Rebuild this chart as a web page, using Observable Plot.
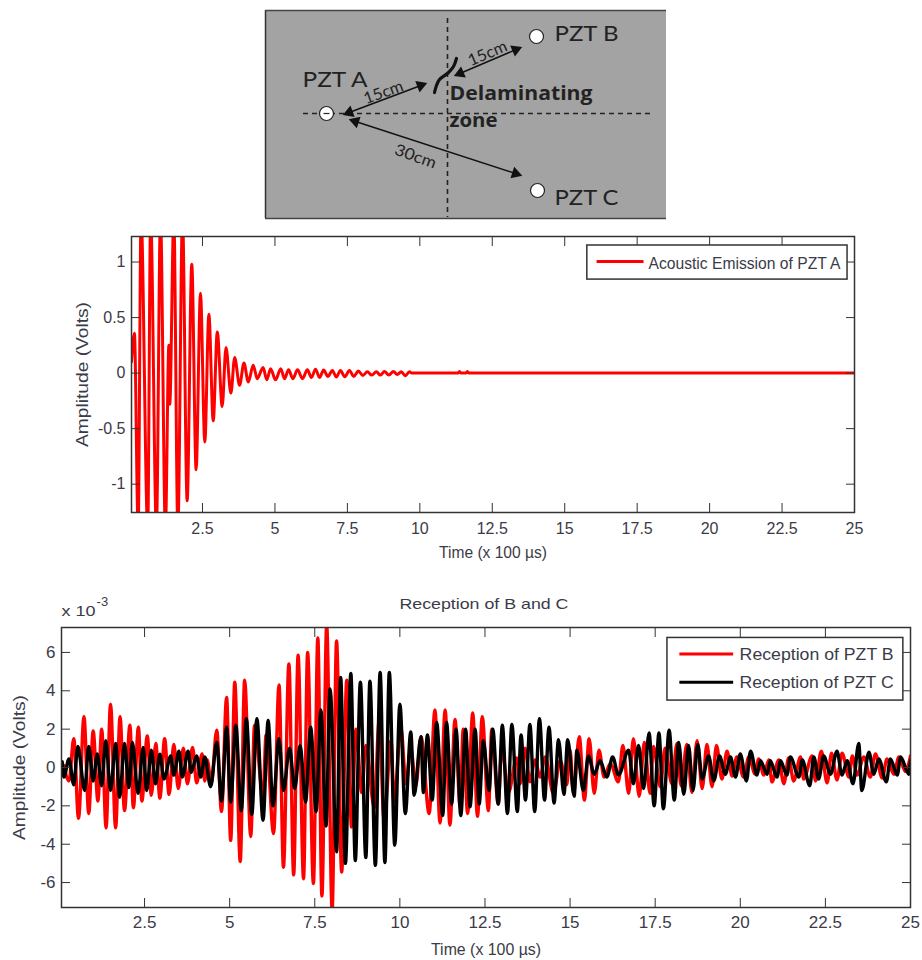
<!DOCTYPE html>
<html><head><meta charset="utf-8">
<script src="https://cdn.jsdelivr.net/npm/d3@7"></script>
<script src="https://cdn.jsdelivr.net/npm/@observablehq/plot@0.6"></script>
<style>html,body{margin:0;padding:0;background:#fff}svg{display:block}</style>
</head><body><div id="a"></div><div id="b"></div><div id="c"></div>
<script>
// Panel 1: Acoustic emission of PZT A
const emissionT=[0.05,0.15,0.28,0.38,0.61,0.71,0.91,1.05,1.22,1.34,1.37,1.51,1.65,1.81,1.97,2.13,2.28,2.43,2.58,2.72,2.87,3.01,3.18,3.31,3.48,3.61,3.78,3.93,4.08,4.25,4.39,4.59,4.72,4.85,5.02,5.2,5.33,5.47,5.62,5.78,5.95,6.12,6.26,6.4,6.54,6.68,6.83,6.98,7.12,7.26,7.41,7.57,7.72,7.88,8.03,8.19,8.34,8.5,8.64,8.78,8.93,9.09,9.22,9.36,9.5,9.64,9.72,11.32,11.37,11.42,11.59,11.64,11.69,25];
const emissionV=[0.1,0.36,-1.4,1.4,-1.4,1.4,-1.4,1.4,-1.4,0.25,-0.28,1.4,-1.4,1.4,-1.15,0.98,-0.87,0.72,-0.62,0.53,-0.43,0.37,-0.3,0.23,-0.18,0.14,-0.11,0.09,-0.08,0.07,-0.05,0.05,-0.06,0.04,-0.06,0.04,-0.05,0.03,-0.05,0.03,-0.05,0.03,-0.04,0.035,-0.04,0.027,-0.03,0.024,-0.036,0.024,-0.033,0.024,-0.03,0.018,-0.021,0.012,-0.018,0.012,-0.018,0.015,-0.018,0.015,-0.012,0.012,-0.024,0.012,0,0,0.015,0,0,0.015,0,0];
const emissionTicksX=[2.5,5,7.5,10,12.5,15,17.5,20,22.5,25];
const emissionTicksY=[-1,-0.5,0,0.5,1];

// Panel 2: receptions, in units of 10^-3 V
const receptionBT=[0.13,0.28,0.42,0.56,0.72,0.86,0.99,1.13,1.24,1.37,1.5,1.65,1.78,1.91,2.07,2.17,2.32,2.42,2.58,2.7,2.83,2.95,3.09,3.22,3.36,3.49,3.64,3.76,3.91,4.03,4.19,4.27,4.34,4.46,4.62,4.76,4.91,5.03,5.15,5.31,5.44,5.62,5.73,5.98,6.07,6.29,6.45,6.58,6.74,6.88,7.01,7.17,7.29,7.46,7.59,7.71,7.85,8.01,8.14,8.29,8.44,8.58,8.71,8.88,9.0,9.25,9.39,9.54,9.74,9.83,10.03,10.18,10.32,10.47,10.62,10.86,11.03,11.18,11.33,11.47,11.62,11.77,11.86,11.99,12.14,12.28,12.42,12.6,12.7,12.89,12.99,13.19,13.43,13.53,13.68,13.82,13.97,14.12,14.27,14.51,14.71,14.9,15.0,15.1,15.27,15.42,15.56,15.71,15.85,16.0,16.18,16.42,16.55,16.72,16.86,17.03,17.18,17.35,17.45,17.65,17.79,17.99,18.14,18.26,18.43,18.58,18.73,18.88,19.02,19.17,19.3,19.46,19.61,19.76,19.9,20.1,20.25,20.44,20.54,20.69,20.84,20.93,21.13,21.28,21.42,21.57,21.77,21.86,22.11,22.21,22.38,22.55,22.68,22.84,22.99,23.19,23.29,23.43,23.63,23.82,23.97,24.17,24.31,24.51,24.66,24.85,25];
const receptionBV=[0.1,-0.7,1.5,-2.65,2.65,-2.4,1.9,-1.75,2.0,-3.15,3.3,-3.15,2.65,-2.25,2.2,-2.1,2.1,-1.75,1.65,-1.45,1.25,-1.6,1.5,-1.4,1.2,-1.1,1.0,-0.85,1.05,-0.8,0.7,-0.7,0.4,-0.85,1.95,-2.3,3.65,-3.8,4.45,-4.9,4.55,-3.6,2.2,-1.5,1.7,-3.45,4.3,-5.2,5.4,-5.6,5.85,-5.8,6.0,-6.05,6.75,-6.7,7.4,-7.4,6.6,-5.45,4.55,-3.1,2.0,-1.3,1.15,-2.1,2.4,-2.8,1.4,-1.8,2.1,-0.85,1.0,-0.95,1.6,-2.4,3.0,-2.9,3.0,-3.0,2.5,-2.05,2.0,-2.4,2.85,-2.55,2.65,-2.25,2.0,-1.9,1.05,-1.3,0.5,-0.85,1.0,-0.75,0.4,-0.5,0.55,-1.37,0.35,-0.9,0.9,-1.35,1.6,-1.7,1.5,-1.35,0.9,-0.5,0.2,-0.75,1.15,-1.35,1.5,-1.5,1.3,-1.35,1.1,-1.0,1.0,-0.85,1.25,-0.95,1.2,-1.3,1.4,-1.1,1.2,-1.0,1.15,-0.6,0.85,-0.45,0.55,-0.5,0.55,-0.35,0.45,-0.4,0.4,-0.75,0.4,-0.85,0.5,-0.7,0.55,-0.6,0.6,-0.7,0.85,-0.8,0.75,-0.65,0.75,-0.5,0.6,-0.4,0.55,-0.5,0.7,-0.55,0.45,-0.35,0.55,-0.2,0.6];
const receptionCT=[0.08,0.13,0.28,0.42,0.54,0.74,0.86,0.99,1.11,1.24,1.36,1.5,1.65,1.77,1.91,2.04,2.14,2.31,2.46,2.56,2.7,2.82,2.95,3.07,3.27,3.36,3.51,3.61,3.78,3.87,4.03,4.15,4.27,4.44,4.62,4.76,4.91,5.03,5.18,5.34,5.49,5.65,5.8,5.98,6.13,6.27,6.45,6.58,6.76,6.91,7.07,7.23,7.38,7.54,7.68,7.83,7.95,8.14,8.26,8.4,8.56,8.69,8.84,9.0,9.12,9.28,9.42,9.56,9.69,9.85,10.0,10.16,10.32,10.42,10.62,10.69,10.81,10.95,11.08,11.26,11.37,11.52,11.65,11.79,11.93,12.06,12.21,12.33,12.45,12.62,12.73,12.89,13.01,13.16,13.29,13.45,13.56,13.69,13.82,13.96,14.1,14.25,14.38,14.53,14.66,14.82,14.93,15.12,15.2,15.39,15.54,15.71,15.88,16.08,16.25,16.42,16.72,16.86,17.01,17.16,17.32,17.47,17.61,17.74,17.91,18.06,18.19,18.34,18.48,18.61,18.75,18.88,19.07,19.22,19.39,19.56,19.71,19.86,20.0,20.18,20.3,20.49,20.59,20.79,20.88,21.08,21.18,21.37,21.47,21.72,21.82,22.04,22.16,22.3,22.45,22.65,22.84,22.99,23.14,23.31,23.48,23.57,23.78,23.92,24.07,24.29,24.41,24.61,24.71,24.95,25];
const receptionCV=[0.3,-0.5,0.45,-0.9,1.1,-1.2,1.1,-0.7,0.7,-0.95,1.4,-1.2,1.25,-1.55,1.25,-1.05,1.3,-1.35,1.05,-1.2,0.9,-0.85,0.7,-0.6,0.6,-0.4,0.85,-0.5,0.85,-0.25,0.6,-0.5,0.55,-1.0,1.3,-1.75,2.1,-1.8,2.2,-2.25,2.55,-2.45,2.55,-2.75,2.45,-2.0,1.5,-1.2,1.0,-1.1,1.15,-1.8,2.1,-2.3,3.0,-3.05,4.1,-4.4,4.7,-5.0,4.9,-4.85,4.45,-4.7,4.5,-5.1,4.95,-4.95,4.95,-4.05,3.3,-2.4,1.85,-1.45,1.6,-1.3,1.7,-1.7,2.35,-2.5,2.35,-1.9,2.0,-2.5,2.0,-2.05,2.0,-1.9,1.4,-1.2,2.0,-1.9,2.2,-2.4,2.25,-2.3,1.7,-1.7,2.25,-2.3,2.55,-1.7,2.1,-1.85,1.45,-1.4,1.45,-1.5,0.9,-1.2,0.6,-0.35,0.35,-0.5,0.55,-0.4,0.9,-0.85,1.15,-1.1,1.8,-2.0,1.8,-2.15,1.95,-1.7,1.3,-1.4,1.15,-1.2,1.2,-0.6,0.6,-0.7,0.6,-0.35,0.55,-0.5,0.7,-0.7,0.85,-0.4,0.35,-0.35,0.35,-0.5,0.35,-0.4,0.55,-0.5,0.4,-0.95,0.55,-0.6,0.6,-0.35,0.85,-0.4,0.35,-0.85,1.25,-1.2,0.8,-0.35,0.45,-0.75,0.45,-0.4,0.55,-0.35,0.35];
const receptionTicksX=[2.5,5,7.5,10,12.5,15,17.5,20,22.5,25];
const receptionTicksY=[-6,-4,-2,0,2,4,6];

// Schematic, in its own plate units
const sensors=[{x:61,y:103},{x:271,y:26},{x:272,y:180}];
const spans=[{x1:81,y1:103,x2:158,y2:74},{x1:192,y1:64,x2:253,y2:38},{x1:87,y1:110,x2:253,y2:164}];
const crackX=[169,171,174,183,188,191];
const crackY=[82,75,69,62,56,48];
const plateLabels=[{x:37,y:69,t:"PZT A"},{x:289,y:23,t:"PZT B"},{x:289,y:187,t:"PZT C"}];
const zoneLabels=[{x:184,y:83,t:"Delaminating"},{x:184,y:110,t:"zone"}];
const spanLabels=[{x:118,y:82,r:-20,t:"15cm"},{x:222,y:43,r:-23,t:"15cm"},{x:150,y:146,r:20,t:"30cm"}];

const ink="#3b3b48", frame="#333", font="'Liberation Sans',Arial,sans-serif";
function stretch(svg,map){svg.querySelectorAll("text").forEach(t=>{const n=map[t.textContent];if(n){t.setAttribute("textLength",n);t.setAttribute("lengthAdjust","spacingAndGlyphs");}});return svg;}

const heads=spans.flatMap(s=>{const dx=s.x2-s.x1,dy=s.y2-s.y1,l=Math.hypot(dx,dy),a=Math.atan2(dx,-dy)*180/Math.PI;
 return [{x:s.x2-dx/l*3,y:s.y2-dy/l*3,r:a},{x:s.x1+dx/l*3,y:s.y1+dy/l*3,r:a+180}];});

const schematicPlot=Plot.plot({
 width:922,height:225,marginLeft:265,marginRight:256,marginTop:10,marginBottom:7,
 style:{fontFamily:"Lato,sans-serif",background:"transparent"},
 x:{domain:[0,401],axis:null},y:{domain:[0,208],reverse:true,axis:null},
 marks:[
  Plot.rect([0],{x1:()=>0,x2:()=>401,y1:()=>0,y2:()=>208,fill:"#a3a3a3"}),
  Plot.ruleX([0],{stroke:"#333",strokeWidth:1.5}),
  Plot.ruleY([0,208],{stroke:"#444",strokeWidth:1.5}),
  Plot.ruleX([182],{y1:8,y2:207,stroke:"#222",strokeWidth:1.6,strokeDasharray:"5,4"}),
  Plot.ruleY([103],{x1:38,x2:385,stroke:"#222",strokeWidth:1.4,strokeDasharray:"5,4"}),
  Plot.link(spans,{x1:"x1",y1:"y1",x2:"x2",y2:"y2",stroke:"#111",strokeWidth:1.4}),
  Plot.dot(heads,{x:"x",y:"y",rotate:"r",symbol:"triangle",r:4.5,fill:"#111"}),
  Plot.line(crackX,{x:crackX,y:crackY,curve:"catmull-rom",stroke:"#111",strokeWidth:3.2}),
  Plot.dot(sensors,{x:"x",y:"y",r:7,fill:"#fff",stroke:"#222",strokeWidth:1.2}),
  Plot.link([{x1:58,x2:64,y:103}],{x1:"x1",x2:"x2",y1:"y",y2:"y",stroke:"#222",strokeWidth:1.2}),
  Plot.text(plateLabels,{x:"x",y:"y",text:"t",textAnchor:"start",fontSize:22,fill:"#222"}),
  Plot.text(zoneLabels,{x:"x",y:"y",text:"t",textAnchor:"start",fontSize:20,fontWeight:"bold",fontFamily:"'Open Sans',sans-serif",fill:"#222"}),
  Plot.text(spanLabels,{x:"x",y:"y",text:"t",rotate:"r",fontSize:16,fill:"#222"})
 ]});
stretch(schematicPlot,{"PZT A":65,"PZT B":64,"PZT C":64,"Delaminating":143,"zone":48,"15cm":41,"30cm":43});
document.getElementById("a").append(schematicPlot);

const emissionPlot=Plot.plot({
 width:922,height:340,marginLeft:131,marginRight:68,marginTop:11,marginBottom:53,
 style:{fontFamily:font,background:"transparent"},
 x:{domain:[0.05,25]},y:{domain:[-1.255,1.23]},
 marks:[
  Plot.line(emissionV,{x:emissionT,y:emissionV,curve:"monotone-x",stroke:"#ff0000",strokeWidth:3,clip:true}),
  Plot.axisX(emissionTicksX,{anchor:"bottom",tickSize:-9,tickPadding:19,fontSize:16,fill:ink,stroke:frame,tickFormat:String,label:"Time (x 100 µs)",labelAnchor:"center",labelArrow:"none",labelOffset:45}),
  Plot.axisX(emissionTicksX,{anchor:"top",tickSize:-9,tickFormat:()=>"",label:null,stroke:frame}),
  Plot.axisY(emissionTicksY,{anchor:"left",tickSize:-9,tickPadding:15,fontSize:16,fill:ink,stroke:frame,tickFormat:String,label:"Amplitude (Volts)",labelAnchor:"center",labelArrow:"none",labelOffset:55}),
  Plot.axisY(emissionTicksY,{anchor:"right",tickSize:-9,tickFormat:()=>"",label:null,stroke:frame}),
  Plot.frame({stroke:frame,strokeWidth:1.5}),
  Plot.rect([0],{x1:()=>15.78,x2:()=>24.76,y1:()=>0.842,y2:()=>1.149,fill:"#fff",stroke:frame,strokeWidth:1.5}),
  Plot.link([0],{x1:()=>16.1,x2:()=>17.72,y1:()=>1.005,y2:()=>1.005,stroke:"#ff0000",strokeWidth:3}),
  Plot.text(["Acoustic Emission of PZT A"],{x:()=>17.89,y:()=>0.985,text:d=>d,textAnchor:"start",fontSize:16.5,fill:ink})
 ]});
stretch(emissionPlot,{"Amplitude (Volts)":145,"Time (x 100 µs)":108,"Acoustic Emission of PZT A":192});
document.getElementById("b").append(emissionPlot);

const receptionPlot=Plot.plot({
 width:922,height:395,marginLeft:61,marginRight:12,marginTop:62,marginBottom:53,
 style:{fontFamily:font,background:"transparent"},
 x:{domain:[0.06,25]},y:{domain:[-7.3,7.3]},
 marks:[
  Plot.line(receptionBV,{x:receptionBT,y:receptionBV,curve:"monotone-x",stroke:"#ff0000",strokeWidth:3.4,clip:true}),
  Plot.line(receptionCV,{x:receptionCT,y:receptionCV,curve:"monotone-x",stroke:"#000",strokeWidth:3.4,clip:true}),
  Plot.axisX(receptionTicksX,{anchor:"bottom",tickSize:-9,tickPadding:17,fontSize:17,fill:ink,stroke:frame,tickFormat:String,label:"Time (x 100 µs)",labelAnchor:"center",labelArrow:"none",labelOffset:47}),
  Plot.axisX(receptionTicksX,{anchor:"top",tickSize:-9,tickFormat:()=>"",label:null,stroke:frame}),
  Plot.axisY(receptionTicksY,{anchor:"left",tickSize:-9,tickPadding:15,fontSize:17,fill:ink,stroke:frame,tickFormat:String,label:"Amplitude (Volts)",labelAnchor:"center",labelArrow:"none",labelOffset:49}),
  Plot.axisY(receptionTicksY,{anchor:"right",tickSize:-9,tickFormat:()=>"",label:null,stroke:frame}),
  Plot.frame({stroke:frame,strokeWidth:1.5}),
  Plot.rect([0],{x1:()=>17.86,x2:()=>24.79,y1:()=>3.49,y2:()=>6.755,fill:"#fff",stroke:frame,strokeWidth:1.5}),
  Plot.link([0],{x1:()=>18.21,x2:()=>19.79,y1:()=>5.92,y2:()=>5.92,stroke:"#ff0000",strokeWidth:3}),
  Plot.link([0],{x1:()=>18.21,x2:()=>19.79,y1:()=>4.44,y2:()=>4.44,stroke:"#000",strokeWidth:3}),
  Plot.text(["Reception of PZT B"],{x:()=>19.98,y:()=>5.9,text:d=>d,textAnchor:"start",fontSize:17,fill:ink}),
  Plot.text(["Reception of PZT C"],{x:()=>19.98,y:()=>4.42,text:d=>d,textAnchor:"start",fontSize:17,fill:ink}),
  Plot.text(["Reception of B and C"],{x:()=>12.47,y:()=>8.5,text:d=>d,fontSize:15,fill:ink}),
  Plot.text(["x 10"],{x:()=>0.06,y:()=>8.15,text:d=>d,textAnchor:"start",fontSize:15,fill:ink}),
  Plot.text(["-3"],{x:()=>1.09,y:()=>8.65,text:d=>d,textAnchor:"start",fontSize:13,fill:ink})
 ]});
stretch(receptionPlot,{"Amplitude (Volts)":145,"Time (x 100 µs)":110,"Reception of PZT B":154,"Reception of PZT C":154,"Reception of B and C":169,"x 10":34});
document.getElementById("c").append(receptionPlot);
</script></body></html>
